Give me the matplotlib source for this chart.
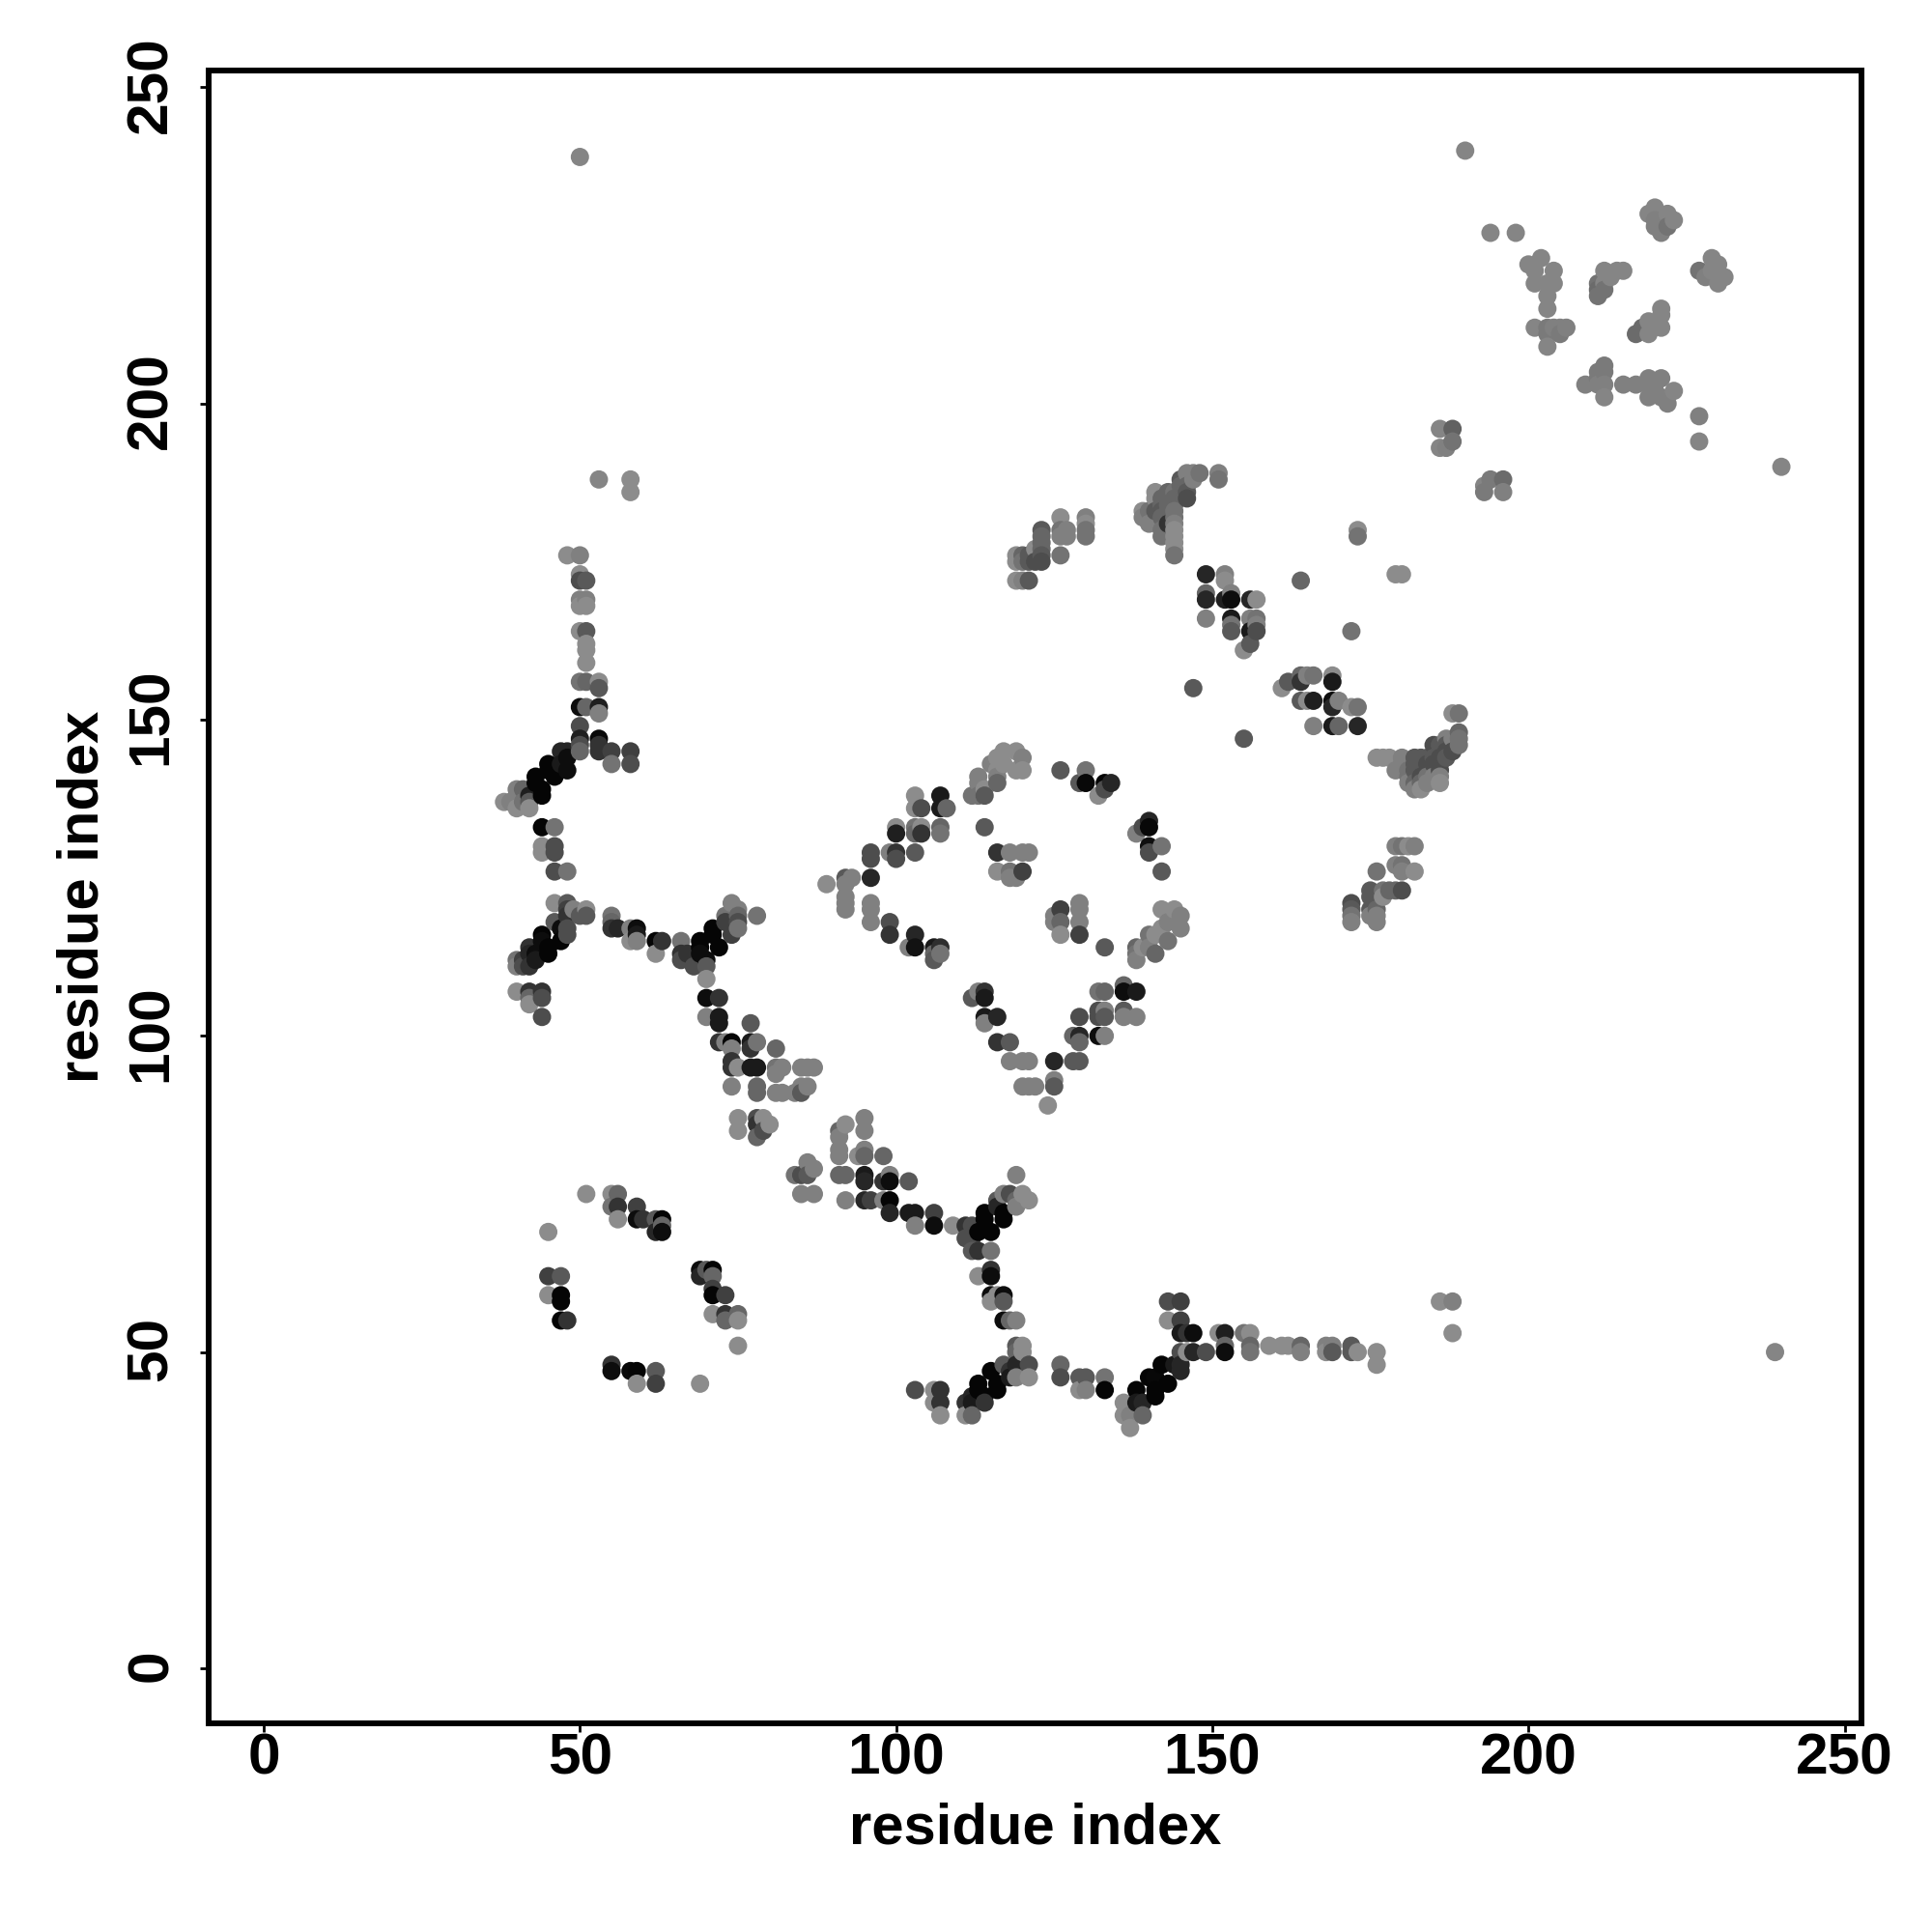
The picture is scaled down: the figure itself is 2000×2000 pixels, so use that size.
import numpy as np
import matplotlib
matplotlib.use('Agg')
import matplotlib.pyplot as plt
from matplotlib.transforms import ScaledTranslation

# contact points : (residue i, residue j, grey level)
arm_top_left = [
    (48,176,.55),(50,176,.5),(50,173,.55),(50,172,.3),(51,172,.35),(50,169,.5),(51,169,.5),(50,168,.55),(51,168,.55),
    (50,164,.55),(51,164,.35),(51,162,.55),(51,161,.55),(51,159,.55),(50,156,.45),(51,156,.4),(53,156,.55),(53,155,.35),
    (50,152,.05),(51,152,.4),(53,152,.12),(53,151,.5),(50,149,.3),(50,147,.12),(50,146,.3),(50,145,.4),
    (53,147,.04),(53,146,.2),(53,145,.2),(55,145,.25),(55,143,.45),(58,145,.25),(58,143,.3),
    (47,145,.15),(48,145,.15),(48,144,.05),(48,142,.05),(47,143,.1),(45,143,.02),(45,142,.02),(46,141,.02),
    (43,141,.02),(43,140,.02),(44,139,.02),(44,138,.02),(42,138,.12),(40,139,.5),(41,139,.4),(40,138,.5),(38,137,.55),
    (39,137,.5),(40,136,.55),(42,136,.55),(41,137,.45),(42,137,.35),(44,133,.02),(46,133,.45),(44,130,.55),(44,129,.55),
    (46,130,.3),(46,129,.3),(46,126,.3),(48,126,.45),(53,188,.52),(58,188,.55),(58,186,.55),(50,239,.52),
]
arm_mid_left = [
    (46,121,.55),(48,121,.35),(48,120,.25),(48,119,.2),(49,120,.5),(51,120,.55),(51,119,.35),(50,119,.35),
    (46,118,.35),(48,117,.3),(47,117,.05),(48,116,.3),(44,116,.02),(44,115,.05),(47,115,.02),(45,114,.02),(42,114,.2),
    (42,113,.15),(43,113,.05),(45,113,.02),(43,112,.1),(40,112,.45),(41,112,.25),(40,111,.5),(42,111,.2),(41,111,.3),
    (40,107,.55),(42,107,.2),(44,107,.2),(42,106,.4),(44,106,.3),(42,105,.55),(44,103,.3),
    (55,119,.45),(55,118,.4),(55,117,.2),(56,117,.15),(58,117,.5),(58,115,.55),(59,117,.05),(59,116,.1),(59,115,.5),
    (62,115,.02),(63,115,.2),(62,113,.55),(66,115,.45),(66,113,.2),(66,112,.3),(67,113,.2),(68,111,.3),(69,115,.02),
    (69,114,.02),(69,113,.05),(70,112,.05),(70,111,.35),(70,109,.55),(71,117,.02),(71,116,.02),(72,114,.02),
    (74,121,.5),(73,119,.45),(73,118,.25),(75,120,.5),(75,119,.4),(75,118,.3),(75,117,.45),(74,116,.25),(78,119,.45),
]
ring_left = [
    (89,124,.55),(92,125,.35),(93,125,.5),(92,124,.5),(92,122,.5),(92,121,.5),(92,120,.5),(96,129,.3),(96,128,.3),
    (96,125,.15),(96,121,.5),(96,120,.5),(96,118,.5),(99,118,.3),(99,116,.2),(102,114,.5),(103,116,.15),(103,114,.07),
    (106,114,.1),(107,114,.18),(106,113,.4),(106,112,.35),(107,113,.45),(100,133,.55),(100,132,.12),(99,129,.5),
    (100,129,.2),(100,128,.3),(103,129,.35),(103,133,.45),(104,133,.55),(104,132,.2),(103,132,.4),(107,133,.4),
    (107,132,.45),(103,138,.55),(103,136,.55),(104,136,.3),(107,138,.1),(107,136,.1),(108,136,.4),(114,133,.35),
]
ring_top = [
    (112,138,.45),(113,138,.45),(114,138,.35),(113,141,.5),(113,140,.5),(114,139,.55),(115,143,.5),(116,140,.4),
    (116,144,.55),(116,142,.55),(116,141,.5),(117,145,.55),(119,145,.55),(117,143,.55),(119,142,.55),(120,144,.5),
    (120,142,.55),(126,142,.35),(130,142,.45),(129,140,.35),(130,140,.03),(132,138,.55),(133,140,.02),(134,140,.15),
    (133,139,.3),(140,134,.15),(140,133,.03),(139,133,.3),(138,132,.5),(140,130,.06),(140,129,.3),(142,130,.45),(142,126,.35),
]
ring_inner = [
    (116,129,.2),(118,129,.5),(120,129,.5),(121,129,.5),(116,126,.55),(118,126,.45),(119,125,.5),(118,125,.5),(120,126,.25),
    (126,120,.25),(125,119,.5),(125,118,.5),(126,118,.4),(126,116,.55),(129,121,.5),(129,120,.5),(129,118,.5),(129,116,.25),(133,114,.35),
]
ring_right = [
    (142,120,.55),(144,120,.55),(145,119,.5),(145,117,.5),(143,118,.5),(142,117,.55),(143,115,.45),(140,116,.45),
    (141,116,.55),(141,113,.4),(139,114,.55),(138,114,.4),(138,113,.45),(138,112,.5),(140,114,.5),
]
ring_bottom = [
    (112,106,.35),(113,107,.5),(114,107,.2),(114,106,.1),(114,103,.1),(116,103,.15),(114,102,.5),(116,99,.2),(118,99,.35),
    (118,96,.5),(120,96,.5),(121,96,.5),(120,92,.5),(121,92,.5),(122,92,.5),(125,96,.15),(128,96,.35),(129,96,.35),
    (125,93,.5),(125,92,.35),(124,89,.55),(128,100,.4),(129,100,.15),(129,99,.4),(129,103,.3),(132,100,.05),(133,100,.5),
    (132,104,.3),(133,104,.5),(132,103,.3),(133,103,.35),(132,107,.45),(133,107,.4),(136,108,.4),(136,104,.35),(136,103,.5),
    (138,103,.5),(136,107,.05),(138,107,.1),
]
diag_upper = [
    (70,106,.05),(72,106,.2),(70,103,.5),(72,103,.1),(72,102,.1),(77,102,.35),(72,99,.2),(73,99,.5),(74,99,.02),(74,98,.5),
    (77,99,.1),(77,98,.2),(78,99,.45),(81,98,.4),(74,96,.2),(74,95,.2),(75,95,.55),(77,95,.1),(78,95,.1),(81,95,.45),
    (81,94,.5),(82,95,.5),(85,95,.5),(86,95,.5),(87,95,.5),(74,92,.5),(78,92,.4),(78,91,.4),(81,91,.5),(82,91,.5),(84,91,.5),
    (85,91,.35),(85,92,.5),(86,92,.5),(75,87,.55),(75,85,.55),(78,87,.3),(78,86,.2),(78,84,.4),(79,87,.55),(79,85,.3),(80,86,.55),
]
diag_lower = [
    (91,85,.4),(92,86,.55),(91,84,.5),(95,87,.5),(95,85,.5),(91,82,.5),(91,81,.5),(95,82,.5),(94,81,.55),(95,81,.4),(98,81,.4),
    (84,78,.45),(85,78,.3),(86,78,.35),(86,80,.5),(87,79,.5),(85,75,.5),(87,75,.5),(91,78,.4),(92,78,.4),(95,78,.1),(95,77,.15),
    (98,77,.2),(99,78,.5),(99,77,.05),(102,77,.35),(92,74,.5),(95,74,.15),(96,74,.25),(98,74,.5),(99,74,.02),(99,72,.15),
    (102,72,.1),(103,72,.1),(106,72,.25),(103,70,.5),(106,70,.05),(109,70,.55),
]
junction = [
    (111,70,.2),(111,68,.3),(112,70,.3),(114,72,.02),(114,71,.02),(116,73,.15),(117,72,.02),(117,71,.02),(115,69,.02),
    (113,69,.02),(112,68,.3),(113,66,.2),(112,66,.35),(115,66,.45),(119,78,.5),(116,74,.35),(117,75,.5),(118,75,.3),
    (119,74,.4),(120,75,.55),(121,74,.55),(119,73,.5),(113,62,.55),(115,63,.2),(115,62,.05),(115,59,.05),(115,58,.55),
    (116,59,.55),(117,59,.05),(117,58,.35),(117,55,.05),(118,55,.4),(119,55,.5),
]
small_ring = [
    (51,75,.55),(55,75,.55),(56,75,.4),(55,73,.45),(56,73,.2),(56,71,.55),(59,73,.25),(59,71,.05),(60,71,.2),(62,71,.35),
    (63,71,.02),(62,69,.15),(63,70,.4),(63,69,.05),(45,69,.55),(45,62,.25),(47,62,.35),(45,59,.55),(47,59,.02),(47,58,.02),
    (47,55,.02),(48,55,.2),(69,63,.05),(69,62,.15),(70,63,.35),(71,63,.02),(71,62,.4),(71,60,.25),(71,59,.02),(73,59,.25),
    (71,56,.55),(73,56,.2),(73,55,.4),(75,56,.4),(75,55,.55),(75,51,.55),(55,48,.2),(55,47,.05),(58,47,.03),(59,47,.02),
    (59,45,.55),(62,47,.35),(62,45,.25),(69,45,.55),
]
bottom_band = [
    (103,44,.3),(106,44,.55),(107,44,.2),(107,42,.2),(106,42,.55),(107,40,.55),(111,42,.2),(111,40,.55),(112,40,.4),(112,42,.1),
    (113,45,.02),(114,42,.2),(114,43,.02),(115,47,.02),(116,44,.02),(116,45,.02),(113,44,.02),(112,43,.15),(117,48,.35),(118,47,.2),
    (118,46,.1),(119,48,.15),(119,46,.5),(121,48,.3),(121,46,.55),(119,51,.35),(120,51,.55),(120,50,.55),(119,50,.4),
    (126,48,.4),(126,46,.3),(129,46,.35),(130,46,.35),(129,44,.55),(130,44,.5),(133,46,.45),(133,44,.02),
    (136,42,.55),(136,40,.55),(137,38,.55),(137,40,.5),(138,44,.02),(138,42,.1),(139,40,.4),(139,42,.15),(140,46,.02),(141,43,.02),
    (141,44,.02),(142,48,.02),(143,45,.02),(141,46,.03),(144,48,.1),(145,48,.15),(145,47,.15),
]
bottom_tail = [
    (143,58,.3),(145,58,.25),(143,55,.55),(145,55,.25),(145,53,.1),(146,53,.2),(147,53,.05),(145,50,.3),(146,50,.55),(147,50,.15),
    (149,50,.3),(151,53,.55),(152,53,.12),(152,51,.4),(152,50,.05),(155,53,.45),(156,53,.55),(156,51,.4),(156,50,.45),(159,51,.55),
    (161,51,.55),(162,51,.55),(164,51,.4),(164,50,.5),(168,51,.5),(169,51,.5),(168,50,.55),(169,50,.35),(172,51,.35),(172,50,.35),
    (173,50,.55),(176,50,.55),(176,48,.55),(186,58,.55),(188,58,.5),(188,53,.55),(239,50,.52),
]
upper_a = [
    (119,176,.55),(119,172,.55),(120,172,.5),(121,172,.35),(119,175,.55),(120,175,.45),(121,175,.35),(122,175,.3),(123,175,.3),
    (123,176,.35),(123,177,.4),(123,178,.4),(123,180,.35),(123,179,.4),(122,177,.55),(120,176,.4),(121,176,.35),(126,182,.55),
    (126,180,.45),(127,180,.5),(126,179,.5),(127,179,.5),(126,176,.45),(130,182,.5),(130,181,.55),(130,180,.45),(130,179,.45),
]
upper_b = [
    (139,183,.55),(139,182,.5),(140,183,.45),(141,186,.55),(141,185,.55),(141,183,.35),(140,181,.5),(142,179,.45),(142,180,.45),
    (142,182,.4),(142,183,.35),(142,184,.4),(142,185,.4),(143,186,.4),(143,185,.4),(143,184,.4),(143,183,.4),(143,181,.2),
    (144,186,.45),(144,185,.4),(144,184,.4),(144,183,.45),(144,182,.45),(144,181,.5),(144,180,.55),(144,179,.55),(144,178,.55),
    (144,177,.55),(144,176,.45),(145,188,.35),(145,187,.4),(146,185,.3),(146,186,.35),(146,187,.4),(146,189,.5),(147,188,.5),
    (148,189,.45),(147,189,.5),(151,189,.5),(151,188,.45),
]
upper_c = [
    (149,173,.15),(152,173,.5),(152,172,.55),(149,170,.4),(149,169,.15),(152,169,.12),(153,170,.5),(153,169,.05),(156,169,.15),
    (157,169,.55),(149,166,.5),(153,166,.1),(153,165,.45),(153,164,.35),(156,166,.5),(157,166,.45),(157,165,.5),(156,164,.1),
    (157,164,.3),(156,162,.35),(155,161,.55),(164,172,.4),(173,180,.55),(173,179,.45),(179,173,.55),(180,173,.55),(172,164,.45),
    (147,155,.35),(155,147,.35),
]
upper_d = [
    (161,155,.55),(162,156,.35),(164,157,.4),(165,157,.5),(166,157,.45),(164,156,.2),(169,157,.55),(169,156,.1),(164,153,.35),
    (165,153,.55),(166,153,.12),(169,153,.05),(170,153,.5),(169,152,.15),(172,152,.55),(173,152,.45),(166,149,.5),(169,149,.1),
    (170,149,.4),(173,149,.15),
]
upper_e = [
    (176,144,.55),(177,144,.55),(178,144,.55),(180,144,.5),(180,143,.5),(182,144,.35),(182,143,.35),(179,142,.5),(181,142,.45),
    (181,141,.45),(182,142,.35),(182,140,.4),(182,139,.5),(183,144,.35),(183,142,.35),(183,140,.4),(184,144,.35),(184,143,.3),
    (184,141,.45),(184,140,.5),(181,140,.5),(183,141,.3),(183,139,.55),(185,146,.3),(185,144,.35),(185,143,.3),(186,146,.35),
    (186,144,.3),(186,143,.3),(186,142,.3),(186,141,.5),(186,140,.55),(185,141,.5),(187,147,.5),(187,146,.35),(187,145,.3),(187,144,.35),
    (188,145,.3),(189,148,.4),(189,147,.45),(189,146,.45),(188,151,.55),(189,151,.45),(188,147,.5),
]
lower_right = [
    (179,130,.5),(180,130,.45),(181,130,.55),(182,130,.5),(179,127,.5),(180,127,.45),(180,126,.5),(176,126,.45),(182,126,.55),
    (175,123,.35),(177,123,.45),(178,123,.4),(179,123,.4),(180,123,.3),(175,122,.35),(177,122,.55),(175,120,.35),(176,120,.4),
    (175,119,.5),(176,119,.5),(172,121,.3),(172,120,.35),(172,119,.45),(176,118,.5),(172,118,.5),
]
top_right = [
    (190,240,.52),(194,227,.52),(198,227,.52),(200,222,.52),(202,223,.52),(201,221,.52),(204,221,.52),(201,219,.52),(203,219,.52),
    (204,219,.52),(203,217,.52),(203,215,.52),(201,212,.52),(203,212,.48),(204,212,.5),(205,212,.5),(206,212,.5),(203,211,.48),
    (205,211,.48),(203,209,.52),(212,221,.52),(213,220,.52),(214,221,.52),(215,221,.52),(211,219,.45),(212,219,.52),(211,218,.42),
    (211,217,.45),(212,218,.45),(219,230,.52),(220,231,.52),(222,230,.52),(223,229,.52),(220,229,.5),(221,229,.5),(221,227,.5),
    (220,228,.5),(222,228,.45),(227,221,.45),(229,223,.52),(230,222,.52),(228,220,.5),(229,221,.52),(230,219,.52),(231,220,.52),
    (221,215,.52),(221,214,.52),(221,212,.52),(219,213,.52),(217,211,.42),(218,212,.42),(219,211,.52),(212,206,.48),(212,205,.48),
    (211,205,.48),(211,204,.48),(209,203,.5),(211,203,.5),(212,203,.5),(212,201,.52),(215,203,.5),(217,203,.5),(219,204,.5),
    (221,204,.5),(219,203,.5),(220,203,.5),(223,202,.52),(219,201,.5),(220,202,.5),(222,200,.5),(221,201,.5),(227,198,.5),(227,194,.52),
    (240,190,.52),(186,196,.52),(188,196,.38),(188,194,.45),(186,193,.52),(187,193,.5),(194,188,.48),(196,188,.42),(193,187,.52),
    (193,186,.48),(196,186,.5),
]

clusters = [arm_top_left, arm_mid_left, ring_left, ring_top, ring_inner, ring_right, ring_bottom, diag_upper, diag_lower,
            junction, small_ring, bottom_band, bottom_tail, upper_a, upper_b, upper_c, upper_d, upper_e, lower_right, top_right]

pts = np.array([p for c in clusters for p in c])
# x going up, y going down, so later points sit on top like in the original
order = np.lexsort((-pts[:, 1], pts[:, 0]))
pts = pts[order]

plt.rcParams['font.family'] = ['Liberation Sans', 'DejaVu Sans']
fig = plt.figure(figsize=(20, 20), dpi=100)
ax = fig.add_axes([216/2000, 1 - 1784/2000, (1927-216)/2000, (1784-73)/2000])

ax.scatter(pts[:, 0], pts[:, 1], s=186, c=[str(v) for v in pts[:, 2]], linewidths=0)

ax.set_xlim(-8.71, 252.67)
ax.set_ylim(-8.71, 252.67)
ticks = [0, 50, 100, 150, 200, 250]
ax.set_xticks(ticks)
ax.set_yticks(ticks)
ax.tick_params(axis='both', length=6.5, width=2, labelsize=43.5)
ax.tick_params(axis='x', pad=0)
ax.tick_params(axis='y', pad=16)
for lab in ax.get_xticklabels():
    lab.set_fontweight('bold')
# rotated labels come out a little low, nudge them up
nudge = ScaledTranslation(0, 3/100, fig.dpi_scale_trans)
for lab in ax.get_yticklabels():
    lab.set_fontweight('bold')
    lab.set_rotation(90)
    lab.set_va('center')
    lab.set_transform(lab.get_transform() + nudge)
for s in ax.spines.values():
    s.set_linewidth(4.3)
ax.set_xlabel('residue index', fontsize=43, fontweight='bold', labelpad=12.5)
ax.set_ylabel('residue index', fontsize=43, fontweight='bold', labelpad=12)

fig.savefig('out.png', dpi=100)
